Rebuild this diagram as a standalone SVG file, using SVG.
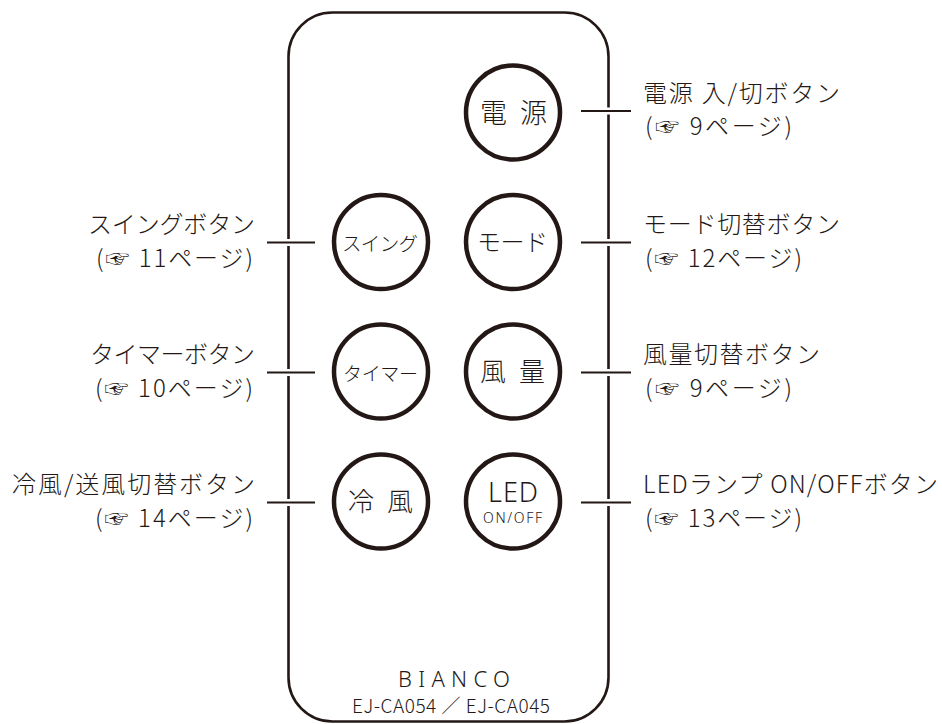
<svg xmlns="http://www.w3.org/2000/svg" width="942" height="724" viewBox="0 0 942 724">
<style>
.body{fill:#fff;stroke:#231815;stroke-width:2.6}
.btn{fill:#fff;stroke:#231815;stroke-width:4.5}
.halo{stroke:#fff;stroke-width:7}
.line{stroke:#231815;stroke-width:2}
text{fill:#231815;font-family:"Noto Sans CJK JP","Noto Sans",sans-serif;font-weight:300}
.lbl{font-size:24px}
.bt{font-size:26px;text-anchor:middle}
.lat{font-family:"Noto Sans","Noto Sans CJK JP",sans-serif}
</style>
<rect id="remote" class="body" x="288.5" y="12.5" width="320" height="709" rx="44"/>
<g id="connectors">
<g class="halo">
<line x1="267" y1="242.5" x2="315" y2="242.5"/>
<line x1="267" y1="372.5" x2="315" y2="372.5"/>
<line x1="267" y1="502.5" x2="315" y2="502.5"/>
<line x1="581" y1="111" x2="631" y2="111"/>
<line x1="581" y1="242.5" x2="631" y2="242.5"/>
<line x1="581" y1="372.5" x2="631" y2="372.5"/>
<line x1="581" y1="502.5" x2="631" y2="502.5"/>
</g>
<g class="line">
<line x1="267" y1="242.5" x2="315" y2="242.5"/>
<line x1="267" y1="372.5" x2="315" y2="372.5"/>
<line x1="267" y1="502.5" x2="315" y2="502.5"/>
<line x1="581" y1="111" x2="631" y2="111"/>
<line x1="581" y1="242.5" x2="631" y2="242.5"/>
<line x1="581" y1="372.5" x2="631" y2="372.5"/>
<line x1="581" y1="502.5" x2="631" y2="502.5"/>
</g>
</g>
<g id="btn-power">
<circle class="btn" cx="513" cy="112.5" r="47"/>
<text class="bt" x="513.5" y="123" style="font-size:27px" textLength="67">電 源</text>
</g>
<g id="btn-swing">
<circle class="btn" cx="381" cy="242" r="47"/>
<text class="bt" x="380" y="251" style="font-size:19.5px" textLength="76">スイング</text>
</g>
<g id="btn-mode">
<circle class="btn" cx="513" cy="242" r="47"/>
<text class="bt" x="512.5" y="251" style="font-size:24px" textLength="71">モード</text>
</g>
<g id="btn-timer">
<circle class="btn" cx="381" cy="371.5" r="47"/>
<text class="bt" x="380.5" y="381" style="font-size:19px" textLength="75">タイマー</text>
</g>
<g id="btn-fan">
<circle class="btn" cx="513" cy="371.5" r="47"/>
<text class="bt" x="512.5" y="381" textLength="65">風 量</text>
</g>
<g id="btn-cool">
<circle class="btn" cx="381" cy="501.5" r="47"/>
<text class="bt" x="380.5" y="511" textLength="65">冷 風</text>
</g>
<g id="btn-led">
<circle class="btn" cx="513" cy="501.5" r="47"/>
<text class="bt lat" x="513" y="502" style="font-size:27px" textLength="50">LED</text>
<text class="bt lat" x="512.5" y="523" style="font-size:14px" textLength="59">ON/OFF</text>
</g>
<g id="label-power">
<text class="lbl" x="643" y="102" textLength="197">電源 入/切ボタン</text>
<text class="lbl" x="645" y="135" textLength="147">(☞ 9ページ)</text>
</g>
<g id="label-mode">
<text class="lbl" x="643" y="233" textLength="197">モード切替ボタン</text>
<text class="lbl" x="645" y="267" textLength="157">(☞ 12ページ)</text>
</g>
<g id="label-fan">
<text class="lbl" x="643" y="363" textLength="177">風量切替ボタン</text>
<text class="lbl" x="645" y="397" textLength="147">(☞ 9ページ)</text>
</g>
<g id="label-led">
<text class="lbl" x="643" y="493" textLength="295">LEDランプ ON/OFFボタン</text>
<text class="lbl" x="645" y="527" textLength="157">(☞ 13ページ)</text>
</g>
<g id="label-swing">
<text class="lbl" x="88" y="233" textLength="167">スイングボタン</text>
<text class="lbl" x="96" y="267" textLength="157">(☞ 11ページ)</text>
</g>
<g id="label-timer">
<text class="lbl" x="90" y="363" textLength="165">タイマーボタン</text>
<text class="lbl" x="95" y="397" textLength="158">(☞ 10ページ)</text>
</g>
<g id="label-cool">
<text class="lbl" x="12" y="493" textLength="243">冷風/送風切替ボタン</text>
<text class="lbl" x="95" y="527" textLength="158">(☞ 14ページ)</text>
</g>
<g id="brand">
<text class="lat" x="398" y="687" style="font-size:22px" textLength="112">BIANCO</text>
<text x="352" y="713" style="font-size:19px" textLength="198">EJ-CA054 ／ EJ-CA045</text>
</g>
</svg>
